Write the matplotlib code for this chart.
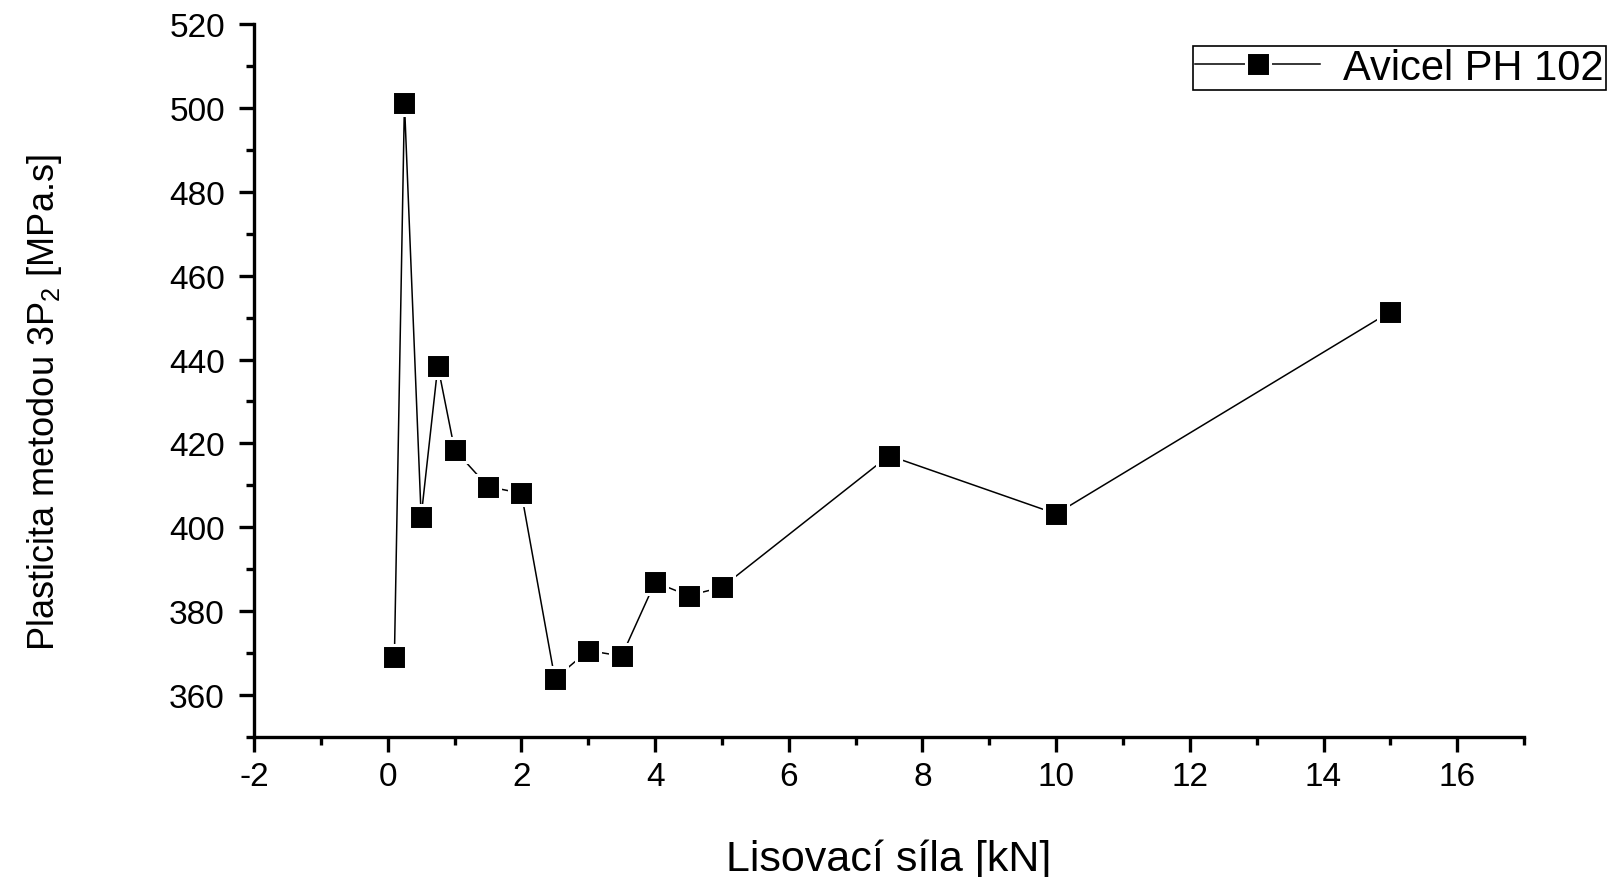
import matplotlib
matplotlib.use("Agg")
import matplotlib.pyplot as plt
from matplotlib.ticker import MultipleLocator

# Compression force [kN] and plasticity (3P2 method) [MPa.s]
force_kn = [0.1, 0.25, 0.5, 0.75, 1.0, 1.5, 2.0, 2.5, 3.0, 3.5, 4.0, 4.5, 5.0, 7.5, 10.0, 15.0]
plasticity = [369.1, 501.2, 402.5, 438.5, 418.5, 409.7, 408.1, 363.9, 370.6, 369.3,
              386.9, 383.7, 385.7, 417.1, 403.2, 451.4]
series_name = "Avicel PH 102"

plt.rcParams["font.family"] = ["Liberation Sans", "DejaVu Sans"]
plt.rcParams["mathtext.default"] = "regular"
plt.rcParams["axes.unicode_minus"] = False

fig = plt.figure(figsize=(16.15, 8.78), dpi=100)
ax = fig.add_axes([0.1573, 0.1595, 0.9437 - 0.1573, 0.9715 - 0.1595])

# white marker edge leaves a small gap between the line and each symbol
ax.plot(force_kn, plasticity, color="black", lw=1.1, marker="s",
        ms=17, mfc="black", mec="white", mew=2.2, label=series_name)

ax.set_xlim(-2, 17)
ax.set_ylim(350, 520)
ax.xaxis.set_major_locator(MultipleLocator(2))
ax.xaxis.set_minor_locator(MultipleLocator(1))
ax.yaxis.set_major_locator(MultipleLocator(20))
ax.yaxis.set_minor_locator(MultipleLocator(10))
ax.set_yticks(range(360, 521, 20))

for side in ("top", "right"):
    ax.spines[side].set_visible(False)
for side in ("left", "bottom"):
    ax.spines[side].set_linewidth(2.4)

ax.tick_params(which="major", direction="out", length=11, width=2.4, labelsize=24)
ax.tick_params(which="minor", direction="out", length=6, width=2.4)
ax.tick_params(axis="x", which="major", pad=6)
ax.tick_params(axis="y", which="major", pad=10)

ax.set_xlabel("Lisovací síla [kN]", fontsize=31)
ax.xaxis.set_label_coords(0.5, -0.143)
ax.set_ylabel("Plasticita metodou 3P$_2$ [MPa.s]", fontsize=26)
ax.yaxis.set_label_coords(-0.150, 0.47)

leg = ax.legend(loc="upper right", bbox_to_anchor=(0.9944, 0.9465),
                bbox_transform=fig.transFigure, borderaxespad=0, fontsize=30,
                numpoints=1, handlelength=3.0, handletextpad=0.55,
                borderpad=0.05, fancybox=False, framealpha=1, edgecolor="black")
leg.get_frame().set_linewidth(1.2)

fig.savefig("out.png", dpi=100)
